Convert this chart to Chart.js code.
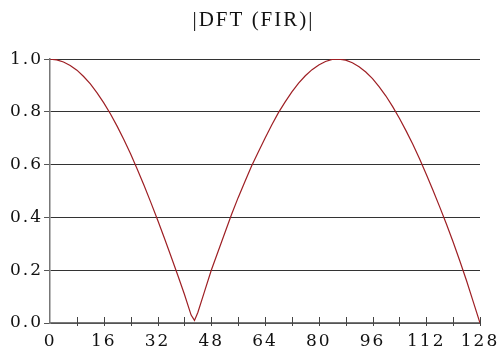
<!DOCTYPE html>
<html>
<head>
<meta charset="utf-8">
<script src="https://cdn.jsdelivr.net/npm/chart.js@4/dist/chart.umd.min.js"></script>
<style>
  html, body { margin: 0; padding: 0; background: #fff; }
  #wrap { width: 500px; height: 351px; }
</style>
</head>
<body>
<div id="wrap"><canvas id="dftChart"></canvas></div>
<script>
// bin index (k) and magnitude |DFT|
const bins = [0, 2, 4, 6, 8, 10, 12, 14, 16, 18, 20, 22, 24, 26, 28, 30, 32, 34, 36, 38, 40, 42, 43,
  44, 46, 48, 50, 52, 54, 56, 58, 60, 62, 64, 66, 68, 70, 72, 74, 76, 78, 80, 82, 84, 86,
  88, 90, 92, 94, 96, 98, 100, 102, 104, 106, 108, 110, 112, 114, 116, 118, 120, 122, 124, 126, 128];
const magnitude = [1.0, 0.997, 0.989, 0.976, 0.958, 0.934, 0.906, 0.872, 0.834, 0.792, 0.745, 0.694, 0.640, 0.582, 0.521, 0.457, 0.391, 0.323, 0.253, 0.182, 0.109, 0.03, 0.01,
  0.04, 0.12, 0.20, 0.27, 0.34, 0.41, 0.475, 0.535, 0.595, 0.648, 0.700, 0.750, 0.797, 0.838, 0.876, 0.909, 0.937, 0.960, 0.978, 0.991, 0.999, 1.0,
  0.996, 0.986, 0.971, 0.951, 0.926, 0.895, 0.860, 0.820, 0.776, 0.728, 0.677, 0.622, 0.564, 0.503, 0.440, 0.375, 0.307, 0.235, 0.160, 0.08, 0.0];
const titleText = '|DFT (FIR)|';

const TICK_FONT = "'DejaVu Serif', serif";
const TITLE_FONT = "'Liberation Serif', 'DejaVu Serif', serif";

/* wide lettering like the original */
const spacingPlugin = {
  id: 'spacing',
  beforeUpdate(chart) { chart.ctx.letterSpacing = '2px'; },
  beforeLayout(chart) { chart.ctx.letterSpacing = '2px'; },
  beforeDraw(chart) { chart.ctx.letterSpacing = '2px'; }
};

/* small ticks crossing the bottom axis */
const axisTicksPlugin = {
  id: 'axisTicks',
  afterDraw(chart) {
    const x = chart.scales.x;
    const ctx = chart.ctx;
    const y0 = chart.chartArea.bottom;
    ctx.save();
    ctx.strokeStyle = '#444';
    ctx.lineWidth = 1;
    x.ticks.forEach(t => {
      if (t.value === x.min) return;
      const px = Math.round(x.getPixelForValue(t.value)) + 0.5;
      ctx.beginPath();
      ctx.moveTo(px, y0 - 6);
      ctx.lineTo(px, y0 + 3);
      ctx.stroke();
    });
    ctx.restore();
  }
};

const points = bins.map((k, i) => ({ x: k, y: magnitude[i] }));

new Chart(document.getElementById('dftChart'), {
  type: 'line',
  data: {
    datasets: [{
      data: points,
      borderColor: '#9e1f24',
      borderWidth: 1.2,
      pointRadius: 0,
      tension: 0,
      fill: false
    }]
  },
  options: {
    responsive: true,
    maintainAspectRatio: false,
    animation: false,
    layout: { padding: { left: 9, right: 2, top: 0, bottom: 0 } },
    plugins: {
      legend: { display: false },
      tooltip: { enabled: false },
      title: {
        display: true,
        text: titleText,
        color: '#111',
        font: { family: TITLE_FONT, size: 21, weight: 'normal', lineHeight: 1.1 },
        padding: { top: 9, bottom: 27 }
      }
    },
    scales: {
      x: {
        type: 'linear',
        min: 0,
        max: 128,
        border: { display: true, color: '#777', width: 1.5 },
        grid: { display: false, drawTicks: false },
        afterFit(s) {
          s.height = 28;
          s.paddingLeft = 0;
          s.paddingRight = 20;
        },
        ticks: {
          stepSize: 8,
          autoSkip: false,
          maxRotation: 0,
          padding: 10,
          color: '#111',
          font: { family: TICK_FONT, size: 17, lineHeight: 1.05 },
          callback: v => (v % 16 === 0 ? String(v) : '')
        }
      },
      y: {
        min: 0,
        max: 1,
        border: { display: true, color: '#777', width: 1.5 },
        grid: { color: '#333', lineWidth: 1, tickLength: 6, tickColor: '#555' },
        ticks: {
          stepSize: 0.2,
          padding: 1,
          color: '#111',
          font: { family: TICK_FONT, size: 17 },
          callback: v => v.toFixed(1)
        }
      }
    }
  },
  plugins: [spacingPlugin, axisTicksPlugin]
});
</script>
</body>
</html>
